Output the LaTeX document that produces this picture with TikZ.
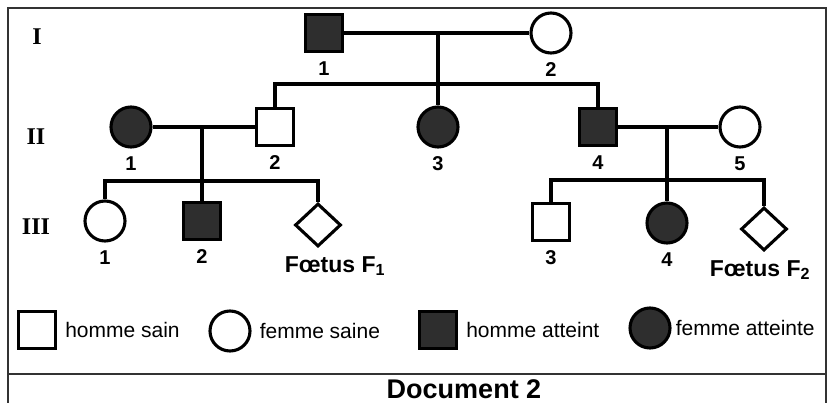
\documentclass[tikz,border=0pt]{standalone}
\usepackage{fontspec}
\setmainfont{Liberation Sans}
\newfontfamily\genfont{Liberation Serif}
\usetikzlibrary{shapes.geometric}

\tikzset{
  ind/.style={draw, line width=3.1pt, inner sep=0pt},
  man/.style={ind, rectangle, minimum size=37pt},
  woman/.style={ind, circle, minimum size=40pt},
  fetus/.style={ind, diamond, minimum width=46pt, minimum height=43pt},
  ill/.style={fill=black!82},
  lab/.style={font=\bfseries\fontsize{20}{20}\selectfont, inner sep=2pt},
  flab/.style={font=\bfseries\fontsize{23}{23}\selectfont, inner sep=2pt},
  gen/.style={font=\genfont\bfseries\fontsize{24}{24}\selectfont},
  leg/.style={font=\fontsize{21}{21}\selectfont, inner sep=2pt},
  link/.style={line width=3.2pt},
  label distance=6pt,
}

\begin{document}
\begin{tikzpicture}[x=1pt, y=-1pt]

\useasboundingbox[fill=white] (0,0) rectangle (832,403);

\draw[line width=1.2pt, black!80] (8,403) -- (8,8) -- (826,8) -- (826,403);
\draw[line width=1.2pt, black!80] (8,374) -- (826,374);

\node[gen] (gi) at (37,37) {I};
\node[gen] (gii) at (36,137) {II};
\node[gen] (giii) at (36,227) {III};

\node[man, ill, label={[lab]below:1}] (i1) at (324,33) {};
\node[woman, label={[lab]below:2}] (i2) at (551,33) {};

\node[woman, ill, label={[lab]below:1}] (ii1) at (131,127) {};
\node[man, label={[lab]below:2}] (ii2) at (275,127) {};
\node[woman, ill, label={[lab]below:3}] (ii3) at (438,127) {};
\node[man, ill, label={[lab]below:4}] (ii4) at (598,127) {};
\node[woman, label={[lab]below:5}] (ii5) at (740,127) {};

\node[woman, label={[lab]below:1}] (iii1) at (105,221) {};
\node[man, ill, label={[lab]below:2}] (iii2) at (202,221) {};
\node[fetus, label={[flab, xshift=17pt]below:Fœtus F\textsubscript{1}}] (f1) at (318,225) {};
\node[man, label={[lab]below:3}] (iii3) at (551,222) {};
\node[woman, ill, label={[lab]below:4}] (iii4) at (667,223) {};
\node[fetus, label={[flab, xshift=-4pt]below:Fœtus F\textsubscript{2}}] (f2) at (764,229) {};

\coordinate (m1) at (438,33);
\coordinate (s1) at (438,84);
\coordinate (m2) at (202,127);
\coordinate (s2) at (202,181);
\coordinate (m3) at (667,127);
\coordinate (s3) at (667,180);

\draw[link] (i1) -- (i2);
\draw[link] (m1) -- (s1) -- (ii3);
\draw[link] (ii2) |- (s1) -| (ii4);

\draw[link] (ii1) -- (ii2);
\draw[link] (m2) -- (s2) -- (iii2);
\draw[link] (iii1) |- (s2) -| (f1);

\draw[link] (ii4) -- (ii5);
\draw[link] (m3) -- (s3) -- (iii4);
\draw[link] (iii3) |- (s3) -| (f2);

\node[man, label={[leg]right:homme sain}] (l1) at (37,330) {};
\node[woman, label={[leg]right:femme saine}] (l2) at (230,331) {};
\node[man, ill, label={[leg]right:homme atteint}] (l3) at (438,330) {};
\node[woman, ill, label={[leg, xshift=-4pt]right:femme atteinte}] (l4) at (650,328) {};

\node[font=\bfseries\fontsize{27}{27}\selectfont] (doc) at (464,389) {Document 2};

\end{tikzpicture}
\end{document}
